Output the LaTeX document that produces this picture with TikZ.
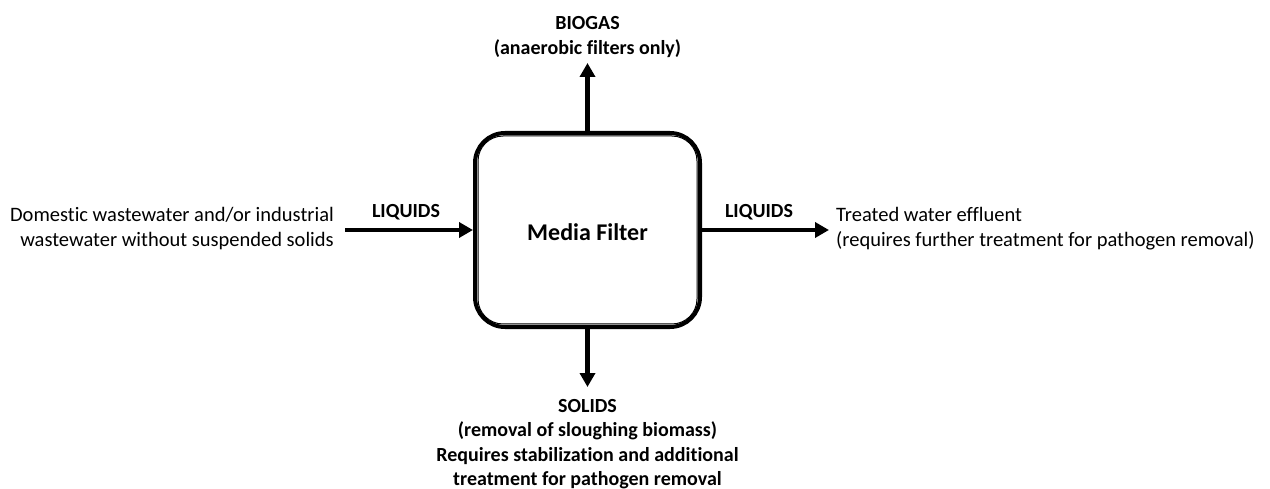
\documentclass[tikz,border=0pt]{standalone}
\usepackage{fontspec}
\setmainfont{Carlito}[Ligatures=NoCommon]
\usetikzlibrary{arrows.meta,positioning}
\tikzset{
  flow/.style={line width=4.5pt,-{Triangle[length=14pt,width=15pt]}},
  lbl/.style={font=\fontsize{20}{24.5}\selectfont\bfseries,inner sep=0pt,align=center},
  txt/.style={font=\fontsize{20.5}{25}\selectfont,inner sep=0pt},
  filter/.style={draw,line width=4pt,rounded corners=30pt,minimum width=225pt,minimum height=194pt,inner sep=0pt}
}
\begin{document}
\begin{tikzpicture}[x=1pt,y=-1pt]
\useasboundingbox (0,0) rectangle (1270,489);
\node[filter] (box) at (587.5,230) {};
\draw[line width=1pt,rounded corners=25pt] ([xshift=5pt,yshift=-5pt]box.north west) rectangle ([xshift=-5pt,yshift=5pt]box.south east);
\node[font=\fontsize{24}{28}\selectfont\bfseries,inner sep=0pt] (mf) at (587.5,232) {Media Filter};
\coordinate (inL) at (345,230);
\coordinate (outR) at (829,230);
\coordinate (up) at (587.5,63);
\coordinate (down) at (587.5,387);
\draw[flow] (inL) -- (box.west);
\draw[flow] (box.east) -- (outR);
\draw[flow] (box.north) -- (up);
\draw[flow] (box.south) -- (down);
\node[lbl] (l1) at (406,212) {LIQUIDS};
\node[lbl] (l2) at (759,212) {LIQUIDS};
\node[lbl] (bio) at (587.5,37) {BIOGAS\\(anaerobic filters only)};
\node[lbl] (sol) at (587.5,444) {SOLIDS\\(removal of sloughing biomass)\\Requires stabilization and additional\\treatment for pathogen removal};
\node[txt,align=right,anchor=east] (src) at (334,229) {Domestic wastewater and/or industrial\\wastewater without suspended solids};
\node[txt,align=left,anchor=west] (dst) at (836,229) {Treated water effluent\\(requires further treatment for pathogen removal)};
\end{tikzpicture}
\end{document}
